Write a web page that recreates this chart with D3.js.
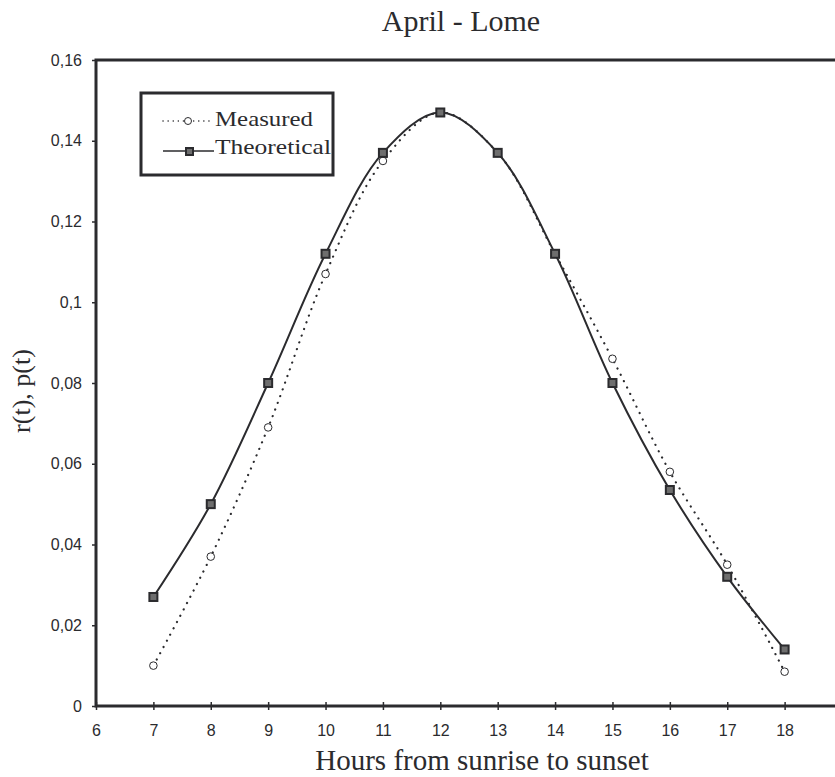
<!DOCTYPE html>
<html>
<head>
<meta charset="utf-8">
<script src="https://cdn.jsdelivr.net/npm/d3@7"></script>
<style>
  body { margin: 0; background: #fff; }
  svg { display: block; }
</style>
</head>
<body>
<div class="chart"></div>
<script>
const w = 835;
const h = 777;

const hours = [7, 8, 9, 10, 11, 12, 13, 14, 15, 16, 17, 18];
const measured = [0.010, 0.037, 0.069, 0.107, 0.135, 0.147, 0.137, 0.112, 0.086, 0.058, 0.035, 0.0085];
const theoretical = [0.027, 0.050, 0.080, 0.112, 0.137, 0.147, 0.137, 0.112, 0.080, 0.0535, 0.032, 0.014];
const xTicks = [6, 7, 8, 9, 10, 11, 12, 13, 14, 15, 16, 17, 18];
const yTicks = [0, 0.02, 0.04, 0.06, 0.08, 0.1, 0.12, 0.14, 0.16];

const ink = "#2b2b2e";
const serif = "'Liberation Serif', 'Times New Roman', serif";
const sans = "'Liberation Sans', Arial, sans-serif";

const svg = d3
  .select(".chart")
  .append("svg")
  .attr("width", w)
  .attr("height", h);

const xScale = d3.scaleLinear().domain([6, 19]).range([96, 842]);
const yScale = d3.scaleLinear().domain([0, 0.16]).range([706, 60]);

// frame
svg.append("rect")
  .attr("x", xScale(6))
  .attr("y", yScale(0.16))
  .attr("width", xScale(19) - xScale(6))
  .attr("height", yScale(0) - yScale(0.16))
  .attr("fill", "none")
  .attr("stroke", ink)
  .attr("stroke-width", 3);

// axes
const xAxis = d3.axisBottom(xScale).tickValues(xTicks).tickSize(4).tickPadding(15);
const yAxis = d3.axisLeft(yScale).tickValues(yTicks).tickSize(4).tickPadding(10)
  .tickFormat((d) => String(d).replace(".", ","));

const gx = svg.append("g")
  .attr("transform", `translate(0,${yScale(0)})`)
  .call(xAxis);
const gy = svg.append("g")
  .attr("transform", `translate(${xScale(6)},0)`)
  .call(yAxis);

[gx, gy].forEach((g) => {
  g.select(".domain").remove();
  g.selectAll("line").attr("stroke", ink).attr("stroke-width", 1.5);
  g.selectAll("text")
    .attr("fill", ink)
    .style("font-family", sans)
    .style("font-size", "16px");
});
gx.selectAll(".tick line").attr("y1", -4);

// lines
const line = d3.line()
  .x((d) => xScale(d[0]))
  .y((d) => yScale(d[1]))
  .curve(d3.curveCatmullRom.alpha(0.5));

const measuredPts = hours.map((x, i) => [x, measured[i]]);
const theoreticalPts = hours.map((x, i) => [x, theoretical[i]]);

svg.append("path")
  .datum(measuredPts)
  .attr("d", line)
  .attr("fill", "none")
  .attr("stroke", ink)
  .attr("stroke-width", 2.2)
  .attr("stroke-linecap", "round")
  .attr("stroke-dasharray", "0.1 7");

svg.append("path")
  .datum(theoreticalPts)
  .attr("d", line)
  .attr("fill", "none")
  .attr("stroke", ink)
  .attr("stroke-width", 2);

svg.selectAll("circle.m")
  .data(measuredPts)
  .enter()
  .append("circle")
  .attr("class", "m")
  .attr("cx", (d) => xScale(d[0]))
  .attr("cy", (d) => yScale(d[1]))
  .attr("r", 3.8)
  .attr("fill", "#fff")
  .attr("stroke", ink)
  .attr("stroke-width", 1);

svg.selectAll("rect.t")
  .data(theoreticalPts)
  .enter()
  .append("rect")
  .attr("class", "t")
  .attr("x", (d) => xScale(d[0]) - 4)
  .attr("y", (d) => yScale(d[1]) - 4)
  .attr("width", 8)
  .attr("height", 8)
  .attr("fill", "#6e6e6e")
  .attr("stroke", ink)
  .attr("stroke-width", 2);

// legend
const legend = svg.append("g");
legend.append("rect")
  .attr("x", 141)
  .attr("y", 93)
  .attr("width", 192)
  .attr("height", 82)
  .attr("fill", "#fff")
  .attr("stroke", ink)
  .attr("stroke-width", 3);

legend.append("line")
  .attr("x1", 163).attr("x2", 213)
  .attr("y1", 121).attr("y2", 121)
  .attr("stroke", ink)
  .attr("stroke-width", 1.5)
  .attr("stroke-linecap", "round")
  .attr("stroke-dasharray", "0.1 5");
legend.append("circle")
  .attr("cx", 188).attr("cy", 121).attr("r", 3.5)
  .attr("fill", "#fff").attr("stroke", ink).attr("stroke-width", 1);
legend.append("line")
  .attr("x1", 163).attr("x2", 214)
  .attr("y1", 151).attr("y2", 151)
  .attr("stroke", ink)
  .attr("stroke-width", 1.5);
legend.append("rect")
  .attr("x", 186).attr("y", 148).attr("width", 7).attr("height", 7)
  .attr("fill", "#6e6e6e").attr("stroke", ink).attr("stroke-width", 2);

legend.selectAll("text")
  .data(["Measured", "Theoretical"])
  .enter()
  .append("text")
  .attr("x", 215)
  .attr("y", (d, i) => 126 + i * 28)
  .attr("textLength", (d, i) => (i === 0 ? 98 : 116))
  .attr("lengthAdjust", "spacingAndGlyphs")
  .text((d) => d)
  .attr("fill", ink)
  .style("font-family", serif)
  .style("font-size", "22px");

// titles
svg.append("text")
  .attr("x", 461)
  .attr("y", 31)
  .attr("text-anchor", "middle")
  .attr("fill", ink)
  .style("font-family", serif)
  .style("font-size", "30px")
  .text("April - Lome");

svg.append("text")
  .attr("x", 482)
  .attr("y", 770)
  .attr("text-anchor", "middle")
  .attr("fill", ink)
  .style("font-family", serif)
  .style("font-size", "29px")
  .text("Hours from sunrise to sunset");

svg.append("text")
  .attr("transform", "translate(30,391) rotate(-90)")
  .attr("text-anchor", "middle")
  .attr("fill", ink)
  .style("font-family", serif)
  .style("font-size", "26px")
  .text("r(t), p(t)");
</script>
</body>
</html>
